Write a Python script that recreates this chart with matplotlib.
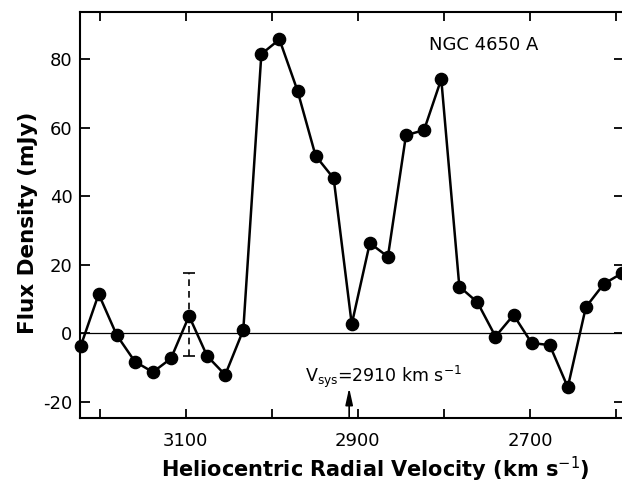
import matplotlib
matplotlib.use("Agg")
import matplotlib.pyplot as plt

# ---- data ----
velocity = [3222, 3201, 3180, 3159, 3138, 3117, 3096, 3075, 3054, 3033,
            3012, 2991, 2970, 2949, 2928, 2907, 2886, 2865, 2844, 2823,
            2803, 2782, 2761, 2740, 2719, 2698, 2677, 2656, 2635, 2614, 2593]
flux = [-3.9, 11.4, -0.6, -8.3, -11.4, -7.4, 5.0, -6.7, -12.2, 0.9,
        81.5, 85.8, 70.8, 51.8, 45.2, 2.6, 26.3, 22.3, 57.8, 59.3,
        74.2, 13.6, 9.0, -1.0, 5.3, -2.9, -3.5, -15.8, 7.6, 14.4, 17.5]

errbar_velocity = 3096
errbar_top = 17.5
errbar_bottom = -6.7

v_sys = 2910

xtick_values = [3200, 3100, 3000, 2900, 2800, 2700, 2600]
xtick_labels = ["", "3100", "", "2900", "", "2700", ""]
ytick_values = [-20, 0, 20, 40, 60, 80]
ytick_labels = ["-20", "0", "20", "40", "60", "80"]

# ---- figure ----
plt.rcParams["font.family"] = ["DejaVu Sans"]
fig = plt.figure(figsize=(6.22, 4.82), dpi=100)
ax = fig.add_axes([80 / 622, (482 - 418) / 482, 544 / 622, 406 / 482])

ax.set_xlim(3222.7, 2590.7)
ax.set_ylim(-24.8, 93.8)

ax.axhline(0, color="black", lw=0.9, zorder=1)

ax.plot(velocity, flux, color="black", lw=1.8, marker="o", markersize=8.8,
        markerfacecolor="black", markeredgecolor="black", clip_on=False, zorder=3)

# error bar (dashed)
eb_mid = flux[velocity.index(errbar_velocity)]
eb = ax.errorbar([errbar_velocity], [eb_mid],
                 yerr=[[eb_mid - errbar_bottom], [errbar_top - eb_mid]],
                 fmt="none", ecolor="black", elinewidth=1.2, capsize=4, capthick=1.2,
                 zorder=2)
eb[2][0].set_linestyle((0, (4, 3)))

# V_sys arrow and label
ax.annotate("", xy=(v_sys, -16.0), xytext=(v_sys, -24.8),
            arrowprops=dict(arrowstyle="-|>,head_length=1.0,head_width=0.22",
                            mutation_scale=10, lw=1.2, color="black",
                            shrinkA=0, shrinkB=0))
ax.text(2961.6, -14.3, r"V$_{\rm sys}$=2910 km s$^{-1}$", fontsize=12.5,
        ha="left", va="baseline")

ax.text(2753.5, 84.2, "NGC 4650 A", fontsize=13, ha="center", va="center")

# ticks
ax.set_xticks(xtick_values)
ax.set_xticklabels(xtick_labels)
ax.set_yticks(ytick_values)
ax.set_yticklabels(ytick_labels)
ax.tick_params(axis="x", direction="in", length=6.5, width=1.3, top=True,
               labelsize=13, pad=10)
ax.tick_params(axis="y", direction="in", length=7, width=1.3, right=True,
               labelsize=13, pad=5.5)

for s in ax.spines.values():
    s.set_linewidth(1.5)

ax.set_xlabel(r"Heliocentric Radial Velocity (km s$^{-1}$)", fontsize=15,
              fontweight="bold", va="baseline")
ax.xaxis.set_label_coords(0.5423, -0.1446)
ax.set_ylabel("Flux Density (mJy)", fontsize=15.5, fontweight="bold")
ax.yaxis.set_label_coords(-0.0763, 0.4815)

fig.savefig("out.png", dpi=100)
